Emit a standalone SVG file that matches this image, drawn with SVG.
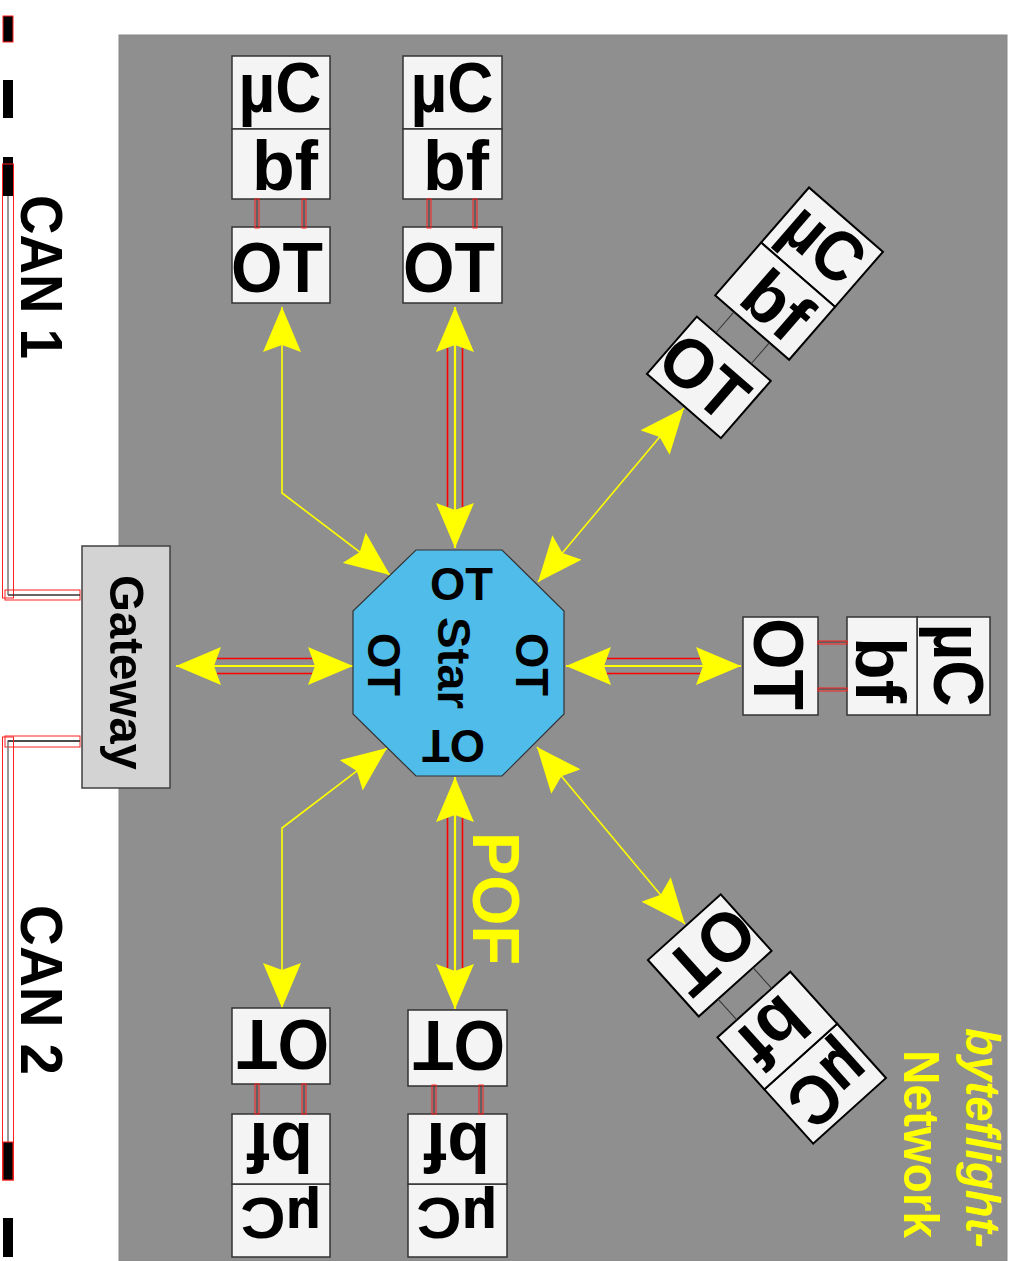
<svg xmlns="http://www.w3.org/2000/svg" width="1015" height="1261" viewBox="0 0 1015 1261">
<style>
.box{fill:#f4f4f4;stroke:#333;stroke-width:1.5}
.boxd{fill:#f4f4f4;stroke:#000;stroke-width:2}
.big{font-family:"Liberation Sans",Arial,sans-serif;font-weight:bold;font-size:70px;fill:#000}
.sm{font-size:57px}
.mid{font-family:"Liberation Sans",Arial,sans-serif;font-weight:bold;font-size:46px;fill:#000}
.can{font-family:"Liberation Sans",Arial,sans-serif;font-weight:bold;font-size:59px;fill:#000}
.ylw{font-family:"Liberation Sans",Arial,sans-serif;font-weight:bold;fill:#ffff00}
.rc{fill:none;stroke:#ff2020;stroke-width:1}
.dk{stroke:#333;stroke-width:1;fill:none}
.yl{fill:none;stroke:#ffff00;stroke-width:1.6;marker-start:url(#ah);marker-end:url(#ah)}
.yl2{fill:none;stroke:#ffff00;stroke-width:2.2;marker-start:url(#ah);marker-end:url(#ah)}
.rl{stroke:#ff0000;stroke-width:1.6}
</style>
<defs>
<marker id="ah" markerUnits="userSpaceOnUse" viewBox="0 0 45 38" refX="45" refY="19" markerWidth="45" markerHeight="38" orient="auto-start-reverse">
<path d="M0,0 L45,19 L0,38 L7,19 Z" fill="#ffff00"/>
</marker>
</defs>
<rect x="0" y="0" width="1015" height="1261" fill="#ffffff"/>
<rect x="119" y="35" width="888" height="1226" fill="#8f8f8f" stroke="#888" stroke-width="1"/>

<g id="can-bus">
<rect x="3" y="16" width="10" height="26" fill="#000" stroke="#ff2020" stroke-width="1"/>
<rect x="3" y="80" width="10" height="38" fill="#000"/>
<rect x="3" y="157" width="10" height="39" fill="#000"/>
<rect x="2.5" y="164" width="11" height="434" class="rc"/>
<line x1="8" y1="196" x2="8" y2="595" stroke="#777" stroke-width="1.5"/>
<rect x="5" y="590" width="75" height="10" class="rc"/>
<polyline points="8,595 80,595" stroke="#333" stroke-width="1.5" fill="none"/>
<rect x="5" y="736" width="75" height="11" class="rc"/>
<polyline points="80,741 8,741 8,1142" stroke="#777" stroke-width="1.5" fill="none"/>
<line x1="8" y1="741" x2="80" y2="741" stroke="#333" stroke-width="1.5"/>
<rect x="2.5" y="737" width="11" height="443" class="rc"/>
<rect x="3" y="1142" width="10" height="38" fill="#000" stroke="#ff2020" stroke-width="1"/>
<rect x="3" y="1218" width="10" height="39" fill="#000"/>
<text class="can" transform="translate(21,195) rotate(90)" textLength="164" lengthAdjust="spacingAndGlyphs">CAN 1</text>
<text class="can" transform="translate(21,905) rotate(90)" textLength="170" lengthAdjust="spacingAndGlyphs">CAN 2</text>
</g>

<g id="gateway">
<rect x="82" y="546" width="88" height="242" fill="#d3d3d3" stroke="#404040" stroke-width="1.5"/>
<text class="mid" style="font-size:49px" transform="translate(110,575) rotate(90)" textLength="195" lengthAdjust="spacingAndGlyphs">Gateway</text>
</g>

<g id="connectors">
<line class="rl" x1="217" y1="658.5" x2="312" y2="658.5"/>
<line class="rl" x1="217" y1="673.5" x2="312" y2="673.5"/>
<line class="yl2" x1="176" y1="666" x2="353" y2="666"/>
<line class="rl" x1="607" y1="658.5" x2="700" y2="658.5"/>
<line class="rl" x1="607" y1="673.5" x2="700" y2="673.5"/>
<line class="yl2" x1="566" y1="666" x2="741" y2="666"/>
<line class="rl" x1="447.5" y1="348" x2="447.5" y2="507"/>
<line class="rl" x1="462.5" y1="348" x2="462.5" y2="507"/>
<line class="yl2" x1="455" y1="307" x2="455" y2="548"/>
<line class="rl" x1="447.5" y1="818" x2="447.5" y2="968"/>
<line class="rl" x1="462.5" y1="818" x2="462.5" y2="968"/>
<line class="yl2" x1="455" y1="777" x2="455" y2="1009"/>
<polyline class="yl" points="282,307 282,493 390,575"/>
<polyline class="yl" points="387,748 282,828 282,1008"/>
<line class="yl" x1="538" y1="582" x2="684" y2="408"/>
<line class="yl" x1="537" y1="747" x2="685" y2="924"/>
</g>

<g id="star">
<polygon points="416,550 502,550 564,611 564,714 502,776 416,776 353,714 353,611" fill="#4fbcea" stroke="#333" stroke-width="1.2"/>
<text class="mid" x="461.5" y="600" text-anchor="middle" textLength="63" lengthAdjust="spacingAndGlyphs">OT</text>
<text class="mid" transform="translate(438,617) rotate(90)" textLength="92" lengthAdjust="spacingAndGlyphs">Star</text>
<text class="mid" transform="translate(368,633) rotate(90)" textLength="63" lengthAdjust="spacingAndGlyphs">OT</text>
<text class="mid" transform="translate(516,633) rotate(90)" textLength="63" lengthAdjust="spacingAndGlyphs">OT</text>
<text class="mid" transform="translate(453.5,730) rotate(180)" text-anchor="middle" textLength="63" lengthAdjust="spacingAndGlyphs">OT</text>
</g>

<g id="node-top-1" transform="translate(232,56)">
<rect class="box" x="0" y="0" width="98" height="73"/>
<rect class="box" x="0" y="73" width="98" height="70"/>
<rect class="box" x="0" y="171" width="98" height="76"/>
<line class="dk" x1="25" y1="143" x2="25" y2="171"/><line class="dk" x1="72" y1="143" x2="72" y2="171"/>
<rect class="rc" x="23" y="143" width="4" height="29"/><rect class="rc" x="70" y="143" width="4" height="29"/>
<text class="big" x="48" y="56" text-anchor="middle" textLength="83" lengthAdjust="spacingAndGlyphs">µC</text>
<text class="big" x="53" y="134" text-anchor="middle" textLength="66" lengthAdjust="spacingAndGlyphs">bf</text>
<text class="big" x="45" y="236" text-anchor="middle" textLength="92" lengthAdjust="spacingAndGlyphs">OT</text>
</g>

<g id="node-top-2" transform="translate(403,56)">
<rect class="box" x="0" y="0" width="99" height="73"/>
<rect class="box" x="0" y="73" width="99" height="70"/>
<rect class="box" x="0" y="171" width="99" height="76"/>
<line class="dk" x1="26" y1="143" x2="26" y2="171"/><line class="dk" x1="72" y1="143" x2="72" y2="171"/>
<rect class="rc" x="24" y="143" width="4" height="29"/><rect class="rc" x="70" y="143" width="4" height="29"/>
<text class="big" x="49" y="56" text-anchor="middle" textLength="83" lengthAdjust="spacingAndGlyphs">µC</text>
<text class="big" x="53" y="134" text-anchor="middle" textLength="66" lengthAdjust="spacingAndGlyphs">bf</text>
<text class="big" x="46" y="236" text-anchor="middle" textLength="92" lengthAdjust="spacingAndGlyphs">OT</text>
</g>

<g id="node-right" transform="translate(990,617) rotate(90)">
<rect class="box" x="0" y="0" width="98" height="73"/>
<rect class="box" x="0" y="73" width="98" height="70"/>
<rect class="box" x="0" y="172" width="98" height="75"/>
<line class="dk" x1="25" y1="143" x2="25" y2="172"/><line class="dk" x1="72" y1="143" x2="72" y2="172"/>
<rect class="rc" x="24" y="143" width="3" height="29"/><rect class="rc" x="71" y="143" width="3" height="29"/>
<text class="big" x="48" y="56" text-anchor="middle" textLength="83" lengthAdjust="spacingAndGlyphs">µC</text>
<text class="big" x="53" y="134" text-anchor="middle" textLength="66" lengthAdjust="spacingAndGlyphs">bf</text>
<text class="big" x="47" y="236" text-anchor="middle" textLength="92" lengthAdjust="spacingAndGlyphs">OT</text>
</g>

<g id="node-bottom-1" transform="translate(330,1257) rotate(180)">
<rect class="box" x="0" y="0" width="98" height="73"/>
<rect class="box" x="0" y="73" width="98" height="70"/>
<rect class="box" x="0" y="173" width="98" height="76"/>
<line class="dk" x1="26" y1="143" x2="26" y2="173"/><line class="dk" x1="73" y1="143" x2="73" y2="173"/>
<rect class="rc" x="24" y="143" width="4" height="30"/><rect class="rc" x="71" y="143" width="4" height="30"/>
<text class="big sm" x="49" y="59" text-anchor="middle" textLength="81" lengthAdjust="spacingAndGlyphs">µC</text>
<text class="big" x="50" y="134" text-anchor="middle" textLength="66" lengthAdjust="spacingAndGlyphs">bf</text>
<text class="big" x="47" y="237" text-anchor="middle" textLength="92" lengthAdjust="spacingAndGlyphs">OT</text>
</g>

<g id="node-bottom-2" transform="translate(507,1257) rotate(180)">
<rect class="box" x="0" y="0" width="99" height="73"/>
<rect class="box" x="0" y="73" width="99" height="70"/>
<rect class="box" x="0" y="171" width="99" height="76"/>
<line class="dk" x1="26" y1="143" x2="26" y2="171"/><line class="dk" x1="73" y1="143" x2="73" y2="171"/>
<rect class="rc" x="24" y="143" width="4" height="29"/><rect class="rc" x="71" y="143" width="4" height="29"/>
<text class="big sm" x="50" y="59" text-anchor="middle" textLength="81" lengthAdjust="spacingAndGlyphs">µC</text>
<text class="big" x="50" y="134" text-anchor="middle" textLength="66" lengthAdjust="spacingAndGlyphs">bf</text>
<text class="big" x="48" y="236" text-anchor="middle" textLength="92" lengthAdjust="spacingAndGlyphs">OT</text>
</g>

<g id="node-upper-right" transform="translate(809,187.5) rotate(41)">
<rect class="boxd" x="0" y="0" width="98" height="73"/>
<rect class="boxd" x="0" y="73" width="98" height="70"/>
<rect class="boxd" x="0" y="171" width="98" height="76"/>
<line class="dk" x1="25" y1="143" x2="25" y2="171"/><line class="dk" x1="72" y1="143" x2="72" y2="171"/>
<text class="big" x="48" y="56" text-anchor="middle" textLength="83" lengthAdjust="spacingAndGlyphs">µC</text>
<text class="big" x="53" y="134" text-anchor="middle" textLength="66" lengthAdjust="spacingAndGlyphs">bf</text>
<text class="big" x="45" y="236" text-anchor="middle" textLength="92" lengthAdjust="spacingAndGlyphs">OT</text>
</g>

<g id="node-lower-right" transform="translate(886,1078) rotate(138)">
<rect class="boxd" x="0" y="0" width="98" height="73"/>
<rect class="boxd" x="0" y="73" width="98" height="70"/>
<rect class="boxd" x="0" y="171" width="98" height="76"/>
<line class="dk" x1="25" y1="143" x2="25" y2="171"/><line class="dk" x1="72" y1="143" x2="72" y2="171"/>
<text class="big" x="48" y="56" text-anchor="middle" textLength="83" lengthAdjust="spacingAndGlyphs">µC</text>
<text class="big" x="53" y="134" text-anchor="middle" textLength="66" lengthAdjust="spacingAndGlyphs">bf</text>
<text class="big" x="45" y="236" text-anchor="middle" textLength="92" lengthAdjust="spacingAndGlyphs">OT</text>
</g>

<g id="labels">
<text class="ylw" style="font-size:67px" transform="translate(473,832) rotate(90)" textLength="133" lengthAdjust="spacingAndGlyphs">POF</text>
<text class="ylw" style="font-size:48px;font-style:italic" transform="translate(966,1028) rotate(90)" textLength="220" lengthAdjust="spacingAndGlyphs">byteflight-</text>
<text class="ylw" style="font-size:50px" transform="translate(904,1050) rotate(90)" textLength="188" lengthAdjust="spacingAndGlyphs">Network</text>
</g>
</svg>
